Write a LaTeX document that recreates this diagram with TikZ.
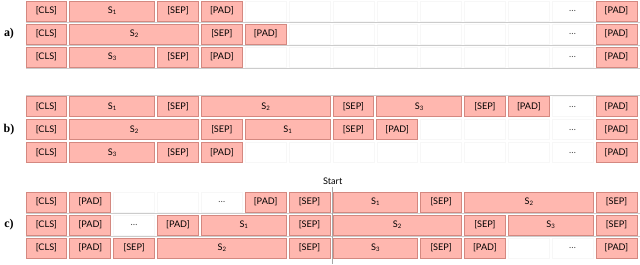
\documentclass[tikz,border=0pt]{standalone}
\usepackage{fontspec}
\newfontfamily\cellfont{Lato}
\newfontfamily\tagfont{Liberation Serif}
\usepackage{tikz}
\usetikzlibrary{positioning}
\usepackage{xcolor}
\definecolor{tokfill}{RGB}{255,183,175}
\definecolor{tokline}{RGB}{212,136,128}

% sentence index, set small and low
\newcommand{\tokidx}[1]{\raisebox{-0.7pt}{\fontsize{4.3}{5}\selectfont #1}}

% one row of cells: name, y, list of col/width/style/label
\newcommand{\tokenrow}[3]{%
  \foreach \col/\ncol/\kind/\lbl in {#3} {
    \pgfmathsetmacro{\cx}{26+43.85*\col+(43.85*\ncol-3)/2}
    \pgfmathsetmacro{\cw}{(43.85*\ncol-3)*0.025}
    \node[\kind, minimum width=\cw cm] (#1-\col) at (\cx,#2) {\lbl};
  }%
}

\begin{document}
\begin{tikzpicture}[
    x=0.025cm, y=-0.025cm,
    cell/.style={minimum height=0.5cm, inner sep=0pt, font=\cellfont\fontsize{6.5}{7}\selectfont},
    tok/.style={cell, draw=tokline, fill=tokfill, line width=0.5pt},
    blank/.style={cell, draw=gray!6, fill=white, line width=0.4pt, text=gray!60!black},
    rule/.style={gray!40, line width=0.6pt},
    tag/.style={font=\tagfont\bfseries\fontsize{8.5}{9}\selectfont}
]
\useasboundingbox (0,0) rectangle (640,264);

% Row rules
\draw[rule] (26,22.5) -- (640,22.5);
\draw[rule] (26,45.5) -- (640,45.5);
\draw[rule] (26,68) -- (640,68);
\draw[rule] (26,95.5) -- (640,95.5);
\draw[rule] (26,213.5) -- (640,213.5);
\draw[rule] (26,236.5) -- (640,236.5);

% a) one sentence per row
\tokenrow{a1}{11}{0/1/tok/{[CLS]}, 1/2/tok/{S\tokidx{1}}, 3/1/tok/{[SEP]}, 4/1/tok/{[PAD]},
  5/1/blank/{}, 6/1/blank/{}, 7/1/blank/{}, 8/1/blank/{}, 9/1/blank/{}, 10/1/blank/{}, 11/1/blank/{},
  12/1/blank/{\dots}, 13/1/tok/{[PAD]}}
\tokenrow{a2}{34}{0/1/tok/{[CLS]}, 1/3/tok/{S\tokidx{2}}, 4/1/tok/{[SEP]}, 5/1/tok/{[PAD]},
  6/1/blank/{}, 7/1/blank/{}, 8/1/blank/{}, 9/1/blank/{}, 10/1/blank/{}, 11/1/blank/{},
  12/1/blank/{\dots}, 13/1/tok/{[PAD]}}
\tokenrow{a3}{57}{0/1/tok/{[CLS]}, 1/2/tok/{S\tokidx{3}}, 3/1/tok/{[SEP]}, 4/1/tok/{[PAD]},
  5/1/blank/{}, 6/1/blank/{}, 7/1/blank/{}, 8/1/blank/{}, 9/1/blank/{}, 10/1/blank/{}, 11/1/blank/{},
  12/1/blank/{\dots}, 13/1/tok/{[PAD]}}

% b) packed sentences
\tokenrow{b1}{106.5}{0/1/tok/{[CLS]}, 1/2/tok/{S\tokidx{1}}, 3/1/tok/{[SEP]}, 4/3/tok/{S\tokidx{2}},
  7/1/tok/{[SEP]}, 8/2/tok/{S\tokidx{3}}, 10/1/tok/{[SEP]}, 11/1/tok/{[PAD]},
  12/1/blank/{\dots}, 13/1/tok/{[PAD]}}
\tokenrow{b2}{129.5}{0/1/tok/{[CLS]}, 1/3/tok/{S\tokidx{2}}, 4/1/tok/{[SEP]}, 5/2/tok/{S\tokidx{1}},
  7/1/tok/{[SEP]}, 8/1/tok/{[PAD]}, 9/1/blank/{}, 10/1/blank/{}, 11/1/blank/{},
  12/1/blank/{\dots}, 13/1/tok/{[PAD]}}
\tokenrow{b3}{152.5}{0/1/tok/{[CLS]}, 1/2/tok/{S\tokidx{3}}, 3/1/tok/{[SEP]}, 4/1/tok/{[PAD]},
  5/1/blank/{}, 6/1/blank/{}, 7/1/blank/{}, 8/1/blank/{}, 9/1/blank/{}, 10/1/blank/{}, 11/1/blank/{},
  12/1/blank/{\dots}, 13/1/tok/{[PAD]}}

% c) aligned on start
\tokenrow{c1}{202}{0/1/tok/{[CLS]}, 1/1/tok/{[PAD]}, 2/1/blank/{}, 3/1/blank/{}, 4/1/blank/{\dots},
  5/1/tok/{[PAD]}, 6/1/tok/{[SEP]}, 7/2/tok/{S\tokidx{1}}, 9/1/tok/{[SEP]},
  10/3/tok/{S\tokidx{2}}, 13/1/tok/{[SEP]}}
\tokenrow{c2}{225}{0/1/tok/{[CLS]}, 1/1/tok/{[PAD]}, 2/1/blank/{\dots}, 3/1/tok/{[PAD]},
  4/2/tok/{S\tokidx{1}}, 6/1/tok/{[SEP]}, 7/3/tok/{S\tokidx{2}}, 10/1/tok/{[SEP]},
  11/2/tok/{S\tokidx{3}}, 13/1/tok/{[SEP]}}
\tokenrow{c3}{248}{0/1/tok/{[CLS]}, 1/1/tok/{[PAD]}, 2/1/tok/{[SEP]}, 3/3/tok/{S\tokidx{2}},
  6/1/tok/{[SEP]}, 7/2/tok/{S\tokidx{3}}, 9/1/tok/{[SEP]}, 10/1/tok/{[PAD]},
  11/1/blank/{}, 12/1/blank/{\dots}, 13/1/tok/{[PAD]}}

% Start marker
\node[font=\cellfont\fontsize{6.5}{7}\selectfont, inner sep=1pt] (start) at (332.7,181.5) {Start};
\coordinate (startend) at (332.7,264);
\draw[gray!70, line width=0.8pt] (start.south) -- (startend);

% Labels
\node[tag] (taga) at (9,34) {a)};
\node[tag] (tagb) at (9,129.5) {b)};
\node[tag] (tagc) at (9,225) {c)};

\end{tikzpicture}
\end{document}
